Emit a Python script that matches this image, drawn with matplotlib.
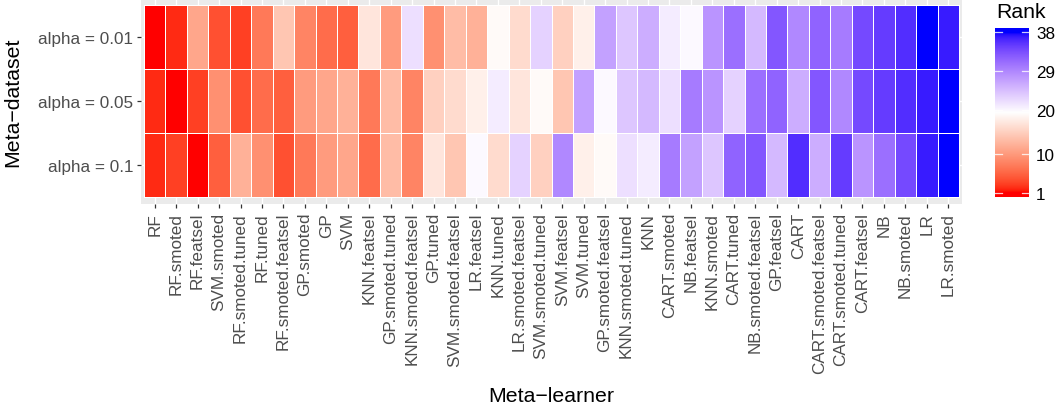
import numpy as np
import matplotlib
matplotlib.use("Agg")
import matplotlib.pyplot as plt
from matplotlib.colors import ListedColormap, Normalize

learners = ["RF", "RF.smoted", "RF.featsel", "SVM.smoted", "RF.smoted.tuned", "RF.tuned",
            "RF.smoted.featsel", "GP.smoted", "GP", "SVM", "KNN.featsel", "GP.smoted.tuned",
            "KNN.smoted.featsel", "GP.tuned", "SVM.smoted.featsel", "LR.featsel", "KNN.tuned",
            "LR.smoted.featsel", "SVM.smoted.tuned", "SVM.featsel", "SVM.tuned",
            "GP.smoted.featsel", "KNN.smoted.tuned", "KNN", "CART.smoted", "NB.featsel",
            "KNN.smoted", "CART.tuned", "NB.smoted.featsel", "GP.featsel", "CART",
            "CART.smoted.featsel", "CART.smoted.tuned", "CART.featsel", "NB", "NB.smoted",
            "LR", "LR.smoted"]
datasets = ["alpha = 0.01", "alpha = 0.05", "alpha = 0.1"]

rank_001 = [1, 2, 11, 4, 3, 7, 14, 8, 6, 5, 17, 10, 22, 9, 13, 12, 19, 16, 23, 15, 18,
            27, 24, 26, 21, 20, 28, 31, 25, 33, 29, 32, 30, 34, 35, 36, 38, 37]
rank_005 = [2, 1, 3, 9, 4, 6, 5, 10, 11, 12, 7, 13, 8, 15, 16, 18, 21, 17, 19, 14, 27,
            20, 24, 25, 22, 30, 28, 23, 31, 32, 26, 33, 29, 34, 35, 36, 37, 38]
rank_010 = [2, 3, 1, 5, 12, 9, 4, 7, 10, 11, 6, 13, 8, 17, 14, 20, 16, 23, 15, 29, 18,
            19, 22, 21, 30, 27, 24, 32, 33, 25, 36, 26, 35, 28, 31, 34, 37, 38]
legend_breaks = [1, 10, 20, 29, 38]

# ---- Lab-space diverging palette (red - white - blue) ----
def srgb_to_lab(rgb):
    rgb = np.asarray(rgb, float)
    lin = np.where(rgb <= 0.04045, rgb / 12.92, ((rgb + 0.055) / 1.055) ** 2.4)
    M = np.array([[0.4124564, 0.3575761, 0.1804375],
                  [0.2126729, 0.7151522, 0.0721750],
                  [0.0193339, 0.1191920, 0.9503041]])
    xyz = M @ lin
    wp = np.array([0.95047, 1.0, 1.08883])
    f = xyz / wp
    d = 6 / 29
    f = np.where(f > d ** 3, np.cbrt(f), f / (3 * d * d) + 4 / 29)
    return np.array([116 * f[1] - 16, 500 * (f[0] - f[1]), 200 * (f[1] - f[2])])

def lab_to_srgb(lab):
    L, a, b = lab
    fy = (L + 16) / 116
    fx = fy + a / 500
    fz = fy - b / 200
    d = 6 / 29
    def finv(t):
        return t ** 3 if t > d else 3 * d * d * (t - 4 / 29)
    wp = np.array([0.95047, 1.0, 1.08883])
    xyz = wp * np.array([finv(fx), finv(fy), finv(fz)])
    Minv = np.array([[3.2404542, -1.5371385, -0.4985314],
                     [-0.9692660, 1.8760108, 0.0415560],
                     [0.0556434, -0.2040259, 1.0572252]])
    lin = Minv @ xyz
    lin = np.clip(lin, 0, 1)
    s = np.where(lin <= 0.0031308, 12.92 * lin, 1.055 * lin ** (1 / 2.4) - 0.055)
    return np.clip(s, 0, 1)

lab_red = srgb_to_lab([1, 0, 0])
lab_white = srgb_to_lab([1, 1, 1])
lab_blue = srgb_to_lab([0, 0, 1])
cols = []
N = 512
for t in np.linspace(0, 1, N):
    if t < 0.5:
        s = t / 0.5
        lab = lab_red + (lab_white - lab_red) * s
    else:
        s = (t - 0.5) / 0.5
        lab = lab_white + (lab_blue - lab_white) * s
    cols.append(lab_to_srgb(lab))
cmap = ListedColormap(cols)
norm = Normalize(vmin=1, vmax=38)

plt.rcParams['font.family'] = ['Liberation Sans', 'DejaVu Sans']

W, H = 1055, 410
fig = plt.figure(figsize=(W / 100, H / 100), dpi=100)
fig.patch.set_facecolor("white")

# panel in pixel coords
pl, pr, pt, pb = 141, 962, 0, 205
ax = fig.add_axes([pl / W, (H - pb) / H, (pr - pl) / W, (pb - pt) / H])
ax.set_facecolor("#EBEBEB")

n = len(learners)
data = np.array([rank_010, rank_005, rank_001], float)  # bottom to top
xe = np.arange(n + 1) + 0.5
ye = np.arange(4) + 0.5

for xv in range(1, n + 1):
    ax.axvline(xv, color="white", lw=1.0, zorder=0.5)
for yv in range(1, 4):
    ax.axhline(yv, color="white", lw=1.0, zorder=0.5)

ax.pcolormesh(xe, ye, data, cmap=cmap, norm=norm, edgecolors="white",
              linewidth=0.5, zorder=1)

mx = 3 / 21.45
ax.set_xlim(0.5 - mx, n + 0.5 + mx)
ax.set_ylim(0.5 - 7 / 64, 3.5 + 6 / 64)

ax.set_xticks(np.arange(1, n + 1))
ax.set_xticklabels(learners, rotation=90, ha="center", va="top")
ax.set_yticks([3, 2, 1])
ax.set_yticklabels(datasets)
ax.tick_params(axis="both", length=3.2, width=0.9, color="#333333",
               labelcolor="#4D4D4D", labelsize=12.3, pad=2.5)
for sp in ax.spines.values():
    sp.set_visible(False)

fig.text(551 / W, 1 - 397 / H, "Meta\u2212learner", ha="center", va="center",
         fontsize=15.3, color="black")
fig.text(13 / W, 1 - 102 / H, "Meta\u2212dataset", ha="center", va="center",
         rotation=90, fontsize=15.3, color="black")

# ---- colourbar legend ----
cb_l, cb_r, cb_t, cb_b = 995, 1029, 29, 198
cax = fig.add_axes([cb_l / W, (H - cb_b) / H, (cb_r - cb_l) / W, (cb_b - cb_t) / H])
pad = 37 * 0.025 / 0.95
y0, y1 = 1 - pad, 38 + pad
grad = np.linspace(y0, y1, 300).reshape(-1, 1)
cax.imshow(grad, aspect="auto", cmap=cmap, norm=norm, origin="lower",
           extent=(0, 1, y0, y1))
cax.set_xlim(0, 1)
cax.set_ylim(y0, y1)
for v in legend_breaks:
    cax.plot([0, 0.2], [v, v], color="white", lw=0.9, alpha=0.8)
    cax.plot([0.8, 1], [v, v], color="white", lw=0.9, alpha=0.8)
cax.set_xticks([])
cax.yaxis.tick_right()
cax.set_yticks(legend_breaks)
cax.set_yticklabels([str(v) for v in legend_breaks])
cax.tick_params(axis="y", length=0, pad=5, labelsize=12.3, labelcolor="black")
for sp in cax.spines.values():
    sp.set_visible(False)
fig.text(996 / W, 1 - 13 / H, "Rank", ha="left", va="center", fontsize=15.3,
         color="black")

fig.savefig("out.png", dpi=100)
